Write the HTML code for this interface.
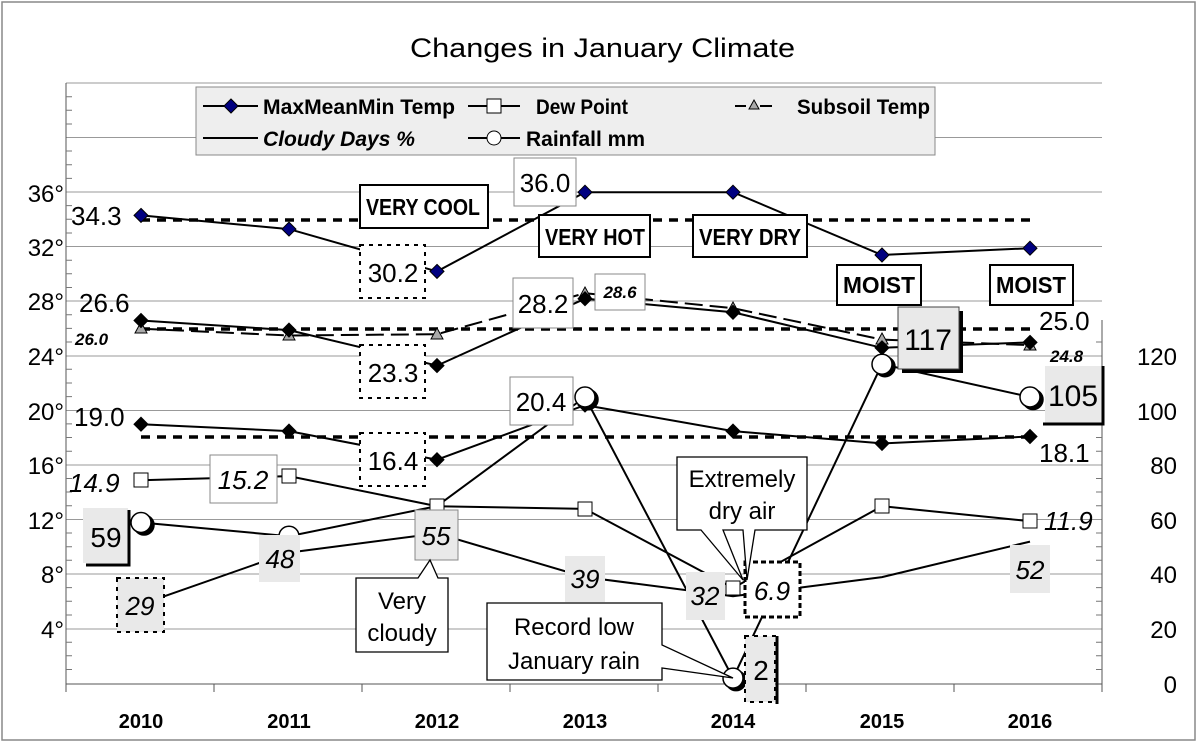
<!DOCTYPE html>
<html><head><meta charset="utf-8"><style>
html,body{margin:0;padding:0;background:#fff}
svg{display:block}
text{font-family:"Liberation Sans",Arial,sans-serif}
.n{font-family:"Liberation Sans",sans-serif;font-weight:bold}
</style></head><body>
<svg width="1200" height="745" viewBox="0 0 1200 745" xmlns="http://www.w3.org/2000/svg">
<rect x="2" y="2" width="1193" height="738" fill="#fff" stroke="#888" stroke-width="1.5"/>
<text x="410" y="57" font-size="27" textLength="385" lengthAdjust="spacingAndGlyphs">Changes in January Climate</text>
<!-- gridlines -->
<g stroke="#999" stroke-width="1">
<line x1="66" y1="83" x2="1102" y2="83"/>
<line x1="66" y1="137.5" x2="1102" y2="137.5"/>
<line x1="66" y1="192" x2="1102" y2="192"/>
<line x1="66" y1="246.5" x2="1102" y2="246.5"/>
<line x1="66" y1="301" x2="1102" y2="301"/>
<line x1="66" y1="356" x2="1102" y2="356"/>
<line x1="66" y1="410.5" x2="1102" y2="410.5"/>
<line x1="66" y1="465" x2="1102" y2="465"/>
<line x1="66" y1="519.5" x2="1102" y2="519.5"/>
<line x1="66" y1="574" x2="1102" y2="574"/>
<line x1="66" y1="629" x2="1102" y2="629"/>
</g>
<g stroke="#555" stroke-width="1">
<line x1="66" y1="83" x2="66" y2="684"/>
<line x1="66" y1="684" x2="1102" y2="684"/>
<line x1="1102" y1="320" x2="1102" y2="684"/>
<line x1="66" y1="684" x2="66" y2="692"/><line x1="214" y1="684" x2="214" y2="692"/><line x1="362" y1="684" x2="362" y2="692"/><line x1="510" y1="684" x2="510" y2="692"/><line x1="658" y1="684" x2="658" y2="692"/><line x1="806" y1="684" x2="806" y2="692"/><line x1="954" y1="684" x2="954" y2="692"/><line x1="1102" y1="684" x2="1102" y2="692"/>
</g>
<g stroke="#777" stroke-width="1">
<path d="M66 96.7h6M66 110.3h6M66 124h6M66 151h6M66 164.8h6M66 178.4h6M66 205.6h6M66 219.3h6M66 233h6M66 260.2h6M66 273.8h6M66 287.5h6M66 314.7h6M66 328.4h6M66 342h6M66 369.3h6M66 383h6M66 396.6h6M66 423.9h6M66 437.5h6M66 451.2h6M66 478.5h6M66 492h6M66 505.8h6M66 533h6M66 546.7h6M66 560.3h6M66 587.6h6M66 601.3h6M66 615h6M66 642.2h6M66 655.8h6M66 669.5h6"/>
<path d="M1096 342h6M1096 369.3h6M1096 383h6M1096 396.6h6M1096 423.9h6M1096 437.5h6M1096 451.2h6M1096 478.5h6M1096 492h6M1096 505.8h6M1096 533h6M1096 546.7h6M1096 560.3h6M1096 587.6h6M1096 601.3h6M1096 615h6M1096 642.2h6M1096 655.8h6M1096 669.5h6"/>
</g>
<g font-size="24" text-anchor="end">
<text x="64" y="202">36°</text><text x="64" y="256">32°</text><text x="64" y="310">28°</text><text x="64" y="365">24°</text><text x="64" y="420">20°</text><text x="64" y="474">16°</text><text x="64" y="529">12°</text><text x="64" y="583">8°</text><text x="64" y="638">4°</text>
<text x="1177" y="365">120</text><text x="1177" y="420">100</text><text x="1177" y="474">80</text><text x="1177" y="529">60</text><text x="1177" y="583">40</text><text x="1177" y="638">20</text><text x="1177" y="693">0</text>
</g>
<g font-size="20" font-weight="bold" text-anchor="middle">
<text x="141" y="728">2010</text><text x="289" y="728">2011</text><text x="437" y="728">2012</text><text x="585" y="728">2013</text><text x="733" y="728">2014</text><text x="882" y="728">2015</text><text x="1030" y="728">2016</text>
</g>
<g stroke="#000" stroke-width="3.5" stroke-dasharray="9,7" fill="none">
<line x1="141" y1="220" x2="1030" y2="220"/>
<line x1="141" y1="329" x2="1030" y2="329"/>
<line x1="141" y1="437" x2="1030" y2="437"/>
</g>
<g fill="none" stroke="#000" stroke-width="2">
<polyline points="141,215.4 289,229.1 437,271.4 585,192.2 733,192.2 882,255 1030,248.2"/>
<polyline points="141,320.5 289,330.1 437,365.6 585,298.7 733,312.3 882,347.8 1030,342.4"/>
<polyline points="141,424.2 289,431.1 437,459.7 585,405.1 733,431.1 882,443.4 1030,436.5"/>
<polyline points="141,328.7 289,335.5 437,334.2 585,293.2 733,308.2 882,339.6 1030,345.1" stroke-dasharray="18,7"/>
<polyline points="141,480.2 289,476.1 437,506.2 585,508.9 733,588 882,506.2 1030,521.2"/>
<polyline points="141,522.5 289,536.2 437,506.1 585,397 733,678.1 882,364.2 1030,397"/>
<polyline points="141,604.4 289,552.6 437,533.4 585,577.1 733,596.2 882,577.1 1030,541.6"/>
</g>
<g stroke="#000" stroke-width="1">
<g fill="#000080">
<path d="M141 208.4l7 7-7 7-7-7z"/><path d="M289 222.1l7 7-7 7-7-7z"/><path d="M437 264.4l7 7-7 7-7-7z"/><path d="M585 185.2l7 7-7 7-7-7z"/><path d="M733 185.2l7 7-7 7-7-7z"/><path d="M882 248l7 7-7 7-7-7z"/><path d="M1030 241.2l7 7-7 7-7-7z"/>
</g>
<g fill="#aaa">
<path d="M141 322l6 11h-12z"/><path d="M289 329l6 11h-12z"/><path d="M437 328l6 11h-12z"/><path d="M585 287l6 11h-12z"/><path d="M733 302l6 11h-12z"/><path d="M882 333l6 11h-12z"/><path d="M1030 339l6 11h-12z"/>
</g>
<g fill="#000">
<path d="M141 313.5l7 7-7 7-7-7z"/><path d="M289 323.1l7 7-7 7-7-7z"/><path d="M437 358.6l7 7-7 7-7-7z"/><path d="M585 291.7l7 7-7 7-7-7z"/><path d="M733 305.3l7 7-7 7-7-7z"/><path d="M882 340.8l7 7-7 7-7-7z"/><path d="M1030 335.4l7 7-7 7-7-7z"/>
<path d="M141 417.2l7 7-7 7-7-7z"/><path d="M289 424.1l7 7-7 7-7-7z"/><path d="M437 452.7l7 7-7 7-7-7z"/><path d="M585 398.1l7 7-7 7-7-7z"/><path d="M733 424.1l7 7-7 7-7-7z"/><path d="M882 436.4l7 7-7 7-7-7z"/><path d="M1030 429.5l7 7-7 7-7-7z"/>
</g>
<g fill="#fff">
<rect x="134" y="473" width="14" height="14"/><rect x="282" y="469" width="14" height="14"/><rect x="430" y="499" width="14" height="14"/><rect x="578" y="502" width="14" height="14"/><rect x="726" y="581" width="14" height="14"/><rect x="875" y="499" width="14" height="14"/><rect x="1023" y="514" width="14" height="14"/>
</g>
<g fill="#fff" stroke-width="1.5">
<circle cx="144" cy="525" r="10" fill="#000"/><circle cx="141" cy="522.5" r="10"/>
<circle cx="289" cy="536.2" r="10"/>
<circle cx="588" cy="399.5" r="10" fill="#000"/><circle cx="585" cy="397" r="10"/>
<circle cx="736" cy="680.6" r="10" fill="#000"/><circle cx="733" cy="678.1" r="10"/>
<circle cx="885" cy="366.7" r="10" fill="#000"/><circle cx="882" cy="364.2" r="10"/>
<circle cx="1033" cy="399.5" r="10" fill="#000"/><circle cx="1030" cy="397" r="10"/>
</g>
</g>
<!-- legend -->
<rect x="196" y="87" width="739" height="68" fill="#eee" stroke="#888"/>
<g stroke="#000" stroke-width="2">
<line x1="203" y1="106" x2="258" y2="106"/><line x1="203" y1="138" x2="258" y2="138"/>
<line x1="468" y1="106" x2="520" y2="106"/><line x1="468" y1="138" x2="520" y2="138"/>
<line x1="735" y1="106" x2="746" y2="106"/><line x1="760" y1="106" x2="772" y2="106"/>
</g>
<path d="M231 99l7 7-7 7-7-7z" fill="#000080" stroke="#000"/>
<rect x="487" y="99" width="14" height="14" fill="#fff" stroke="#000"/>
<circle cx="494" cy="138" r="7" fill="#fff" stroke="#000"/>
<path d="M754 100l5 9h-10z" fill="#aaa" stroke="#000"/>
<g class="n" font-size="21" lengthAdjust="spacingAndGlyphs">
<text x="263" y="114" textLength="192" lengthAdjust="spacingAndGlyphs">MaxMeanMin Temp</text>
<text x="263" y="146" font-style="italic" textLength="152" lengthAdjust="spacingAndGlyphs">Cloudy Days %</text>
<text x="536" y="114" textLength="92" lengthAdjust="spacingAndGlyphs">Dew Point</text>
<text x="526" y="146" textLength="119" lengthAdjust="spacingAndGlyphs">Rainfall mm</text>
<text x="797" y="114" textLength="133" lengthAdjust="spacingAndGlyphs">Subsoil Temp</text>
</g>
<g font-size="26">
<text x="71" y="225">34.3</text>
<text x="79" y="312">26.6</text>
<text x="74" y="426">19.0</text>
<text x="69" y="492" font-style="italic">14.9</text>
<text x="1039" y="330">25.0</text>
<text x="1039" y="462">18.1</text>
<text x="1044" y="530" font-style="italic">11.9</text>
</g>
<g font-size="17" font-weight="bold" font-style="italic">
<text x="75" y="345">26.0</text>
<text x="1050" y="362">24.8</text>
</g>
<g font-size="26" text-anchor="middle">
<rect x="210" y="455" width="67" height="48" fill="#fff" stroke="#888"/><text x="243" y="489" font-style="italic">15.2</text>
<rect x="514" y="158" width="62" height="48" fill="#fff" stroke="#888"/><text x="545" y="192">36.0</text>
<rect x="513" y="278" width="60" height="50" fill="#fff" stroke="#888"/><text x="543" y="313">28.2</text>
<rect x="510" y="377" width="63" height="48" fill="#fff" stroke="#888"/><text x="541" y="411">20.4</text>
<g fill="#fff" stroke="#000" stroke-width="2" stroke-dasharray="4,5">
<rect x="360" y="245" width="65" height="53"/><rect x="360" y="345" width="65" height="53"/><rect x="360" y="433" width="65" height="53"/>
</g>
<text x="393" y="282">30.2</text><text x="393" y="382">23.3</text><text x="393" y="470">16.4</text>
</g>
<rect x="595" y="274" width="50" height="36" fill="#fff" stroke="#888"/>
<text x="620" y="298" font-size="17" font-weight="bold" font-style="italic" text-anchor="middle">28.6</text>
<g fill="#e9e9e9">
<rect x="259" y="535" width="41" height="47"/><rect x="565" y="556" width="40" height="46"/><rect x="686" y="572" width="39" height="48"/><rect x="1010" y="545" width="40" height="48"/><rect x="415" y="510" width="43" height="50" stroke="#888"/>
</g>
<g font-size="26" font-style="italic" text-anchor="middle">
<text x="280" y="568">48</text><text x="585" y="588">39</text><text x="705" y="605">32</text><text x="1030" y="579">52</text><text x="436" y="545">55</text>
</g>
<rect x="83" y="508" width="45" height="55" fill="#e9e9e9"/>
<path d="M86 565h43v-55" fill="none" stroke="#000" stroke-width="3"/>
<text x="106" y="547" font-size="28" text-anchor="middle">59</text>
<rect x="117" y="578" width="47" height="54" fill="#e9e9e9" stroke="#000" stroke-width="2" stroke-dasharray="4,5"/>
<text x="140" y="615" font-size="26" font-style="italic" text-anchor="middle">29</text>
<rect x="902" y="311" width="61" height="62" fill="#000"/>
<rect x="898" y="307" width="61" height="62" fill="#e9e9e9" stroke="#444"/>
<text x="928" y="350" font-size="30" text-anchor="middle">117</text>
<rect x="1045" y="366" width="57" height="58" fill="#e9e9e9"/>
<path d="M1043 424h60v-58" fill="none" stroke="#000" stroke-width="3"/>
<text x="1073" y="406" font-size="30" text-anchor="middle">105</text>
<rect x="745" y="562" width="55" height="55" fill="#fff" stroke="#000" stroke-width="3" stroke-dasharray="5,3"/>
<text x="772" y="600" font-size="26" font-style="italic" text-anchor="middle">6.9</text>
<rect x="745" y="636" width="30" height="66" fill="#e9e9e9" stroke="#000" stroke-width="2" stroke-dasharray="4,5"/>
<line x1="777" y1="636" x2="777" y2="704" stroke="#000" stroke-width="3"/>
<text x="761" y="680" font-size="28" text-anchor="middle">2</text>
<g fill="#fff" stroke="#000" stroke-width="1.3">
<path d="M356 578h62l12-18 8 18h10v74h-92z"/>
<path d="M487 603h175v42l71 33-71-10v12h-175z"/>
<path d="M677 457h130v73h-52l-8 50-4-50h-20l20 50-42-50h-24z"/>
</g>
<g font-size="24" text-anchor="middle">
<text x="402" y="609">Very</text><text x="402" y="641">cloudy</text>
<text x="574" y="635">Record low</text><text x="574" y="669">January rain</text>
<text x="742" y="487">Extremely</text><text x="742" y="519">dry air</text>
</g>
<g fill="#fff" stroke="#000" stroke-width="2">
<rect x="360" y="185" width="128" height="43"/><rect x="539" y="215" width="111" height="42"/><rect x="693" y="215" width="114" height="42"/><rect x="837" y="265" width="84" height="40"/><rect x="990" y="265" width="83" height="40"/>
</g>
<g class="n" font-size="23">
<text x="366" y="215" textLength="114" lengthAdjust="spacingAndGlyphs">VERY COOL</text>
<text x="545" y="245" textLength="100" lengthAdjust="spacingAndGlyphs">VERY HOT</text>
<text x="699" y="245" textLength="102" lengthAdjust="spacingAndGlyphs">VERY DRY</text>
<text x="843" y="293" textLength="72" lengthAdjust="spacingAndGlyphs">MOIST</text>
<text x="996" y="293" textLength="70" lengthAdjust="spacingAndGlyphs">MOIST</text>
</g>
</svg>
</body></html>
